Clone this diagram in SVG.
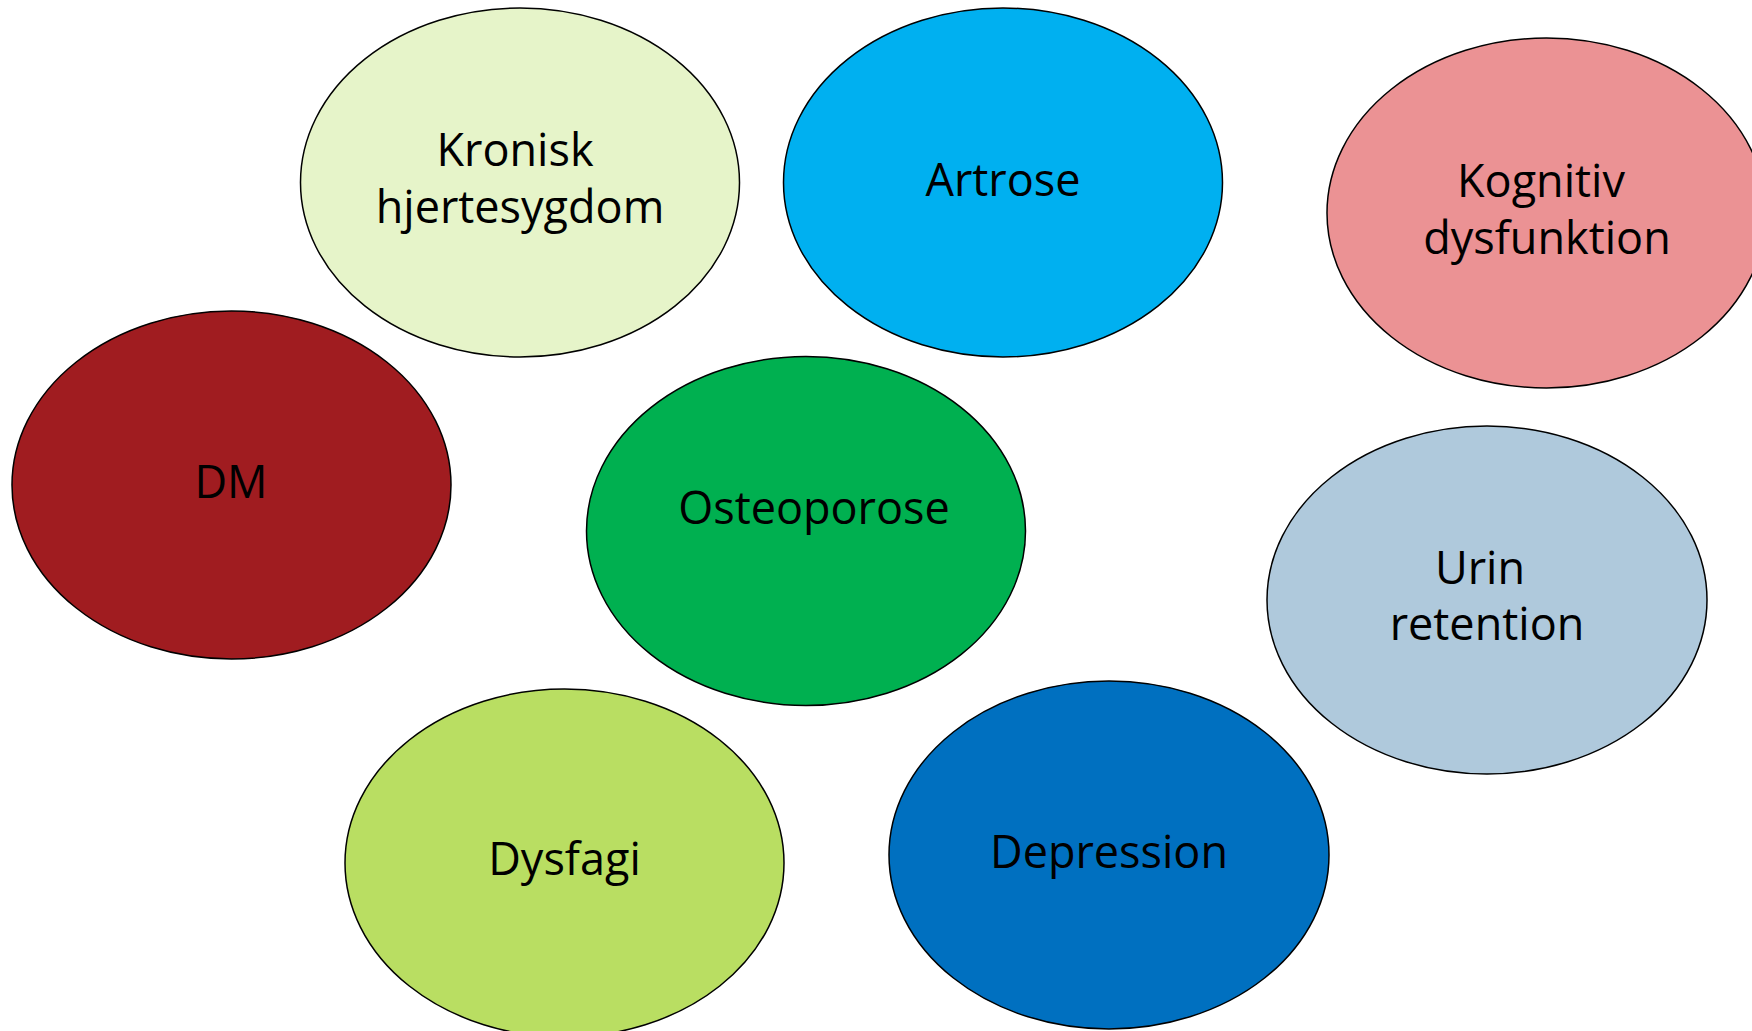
<svg xmlns="http://www.w3.org/2000/svg" width="1752" height="1031" viewBox="0 0 1752 1031">
<style>
.n{stroke:#000;stroke-width:1.5}
.t{font-family:"Open Sans","Noto Sans","Liberation Sans",sans-serif;font-size:45px;fill:#000;text-anchor:middle}
</style>
<rect width="1752" height="1031" fill="#fff"/>
<g id="connectors"></g>
<g id="kronisk"><ellipse class="n" cx="520" cy="182.5" rx="219.5" ry="174.5" fill="#E6F4C9"/><text class="t" x="515" y="166">Kronisk</text><text class="t" x="520" y="223">hjertesygdom</text></g>
<g id="artrose"><ellipse class="n" cx="1003" cy="182.5" rx="219.5" ry="174.5" fill="#00B0F0"/><text class="t" x="1003" y="196">Artrose</text></g>
<g id="kognitiv"><ellipse class="n" cx="1546.5" cy="213" rx="219.5" ry="175" fill="#EB9294"/><text class="t" x="1541" y="197">Kognitiv</text><text class="t" x="1547" y="254">dysfunktion</text></g>
<g id="dm"><ellipse class="n" cx="231.5" cy="485" rx="219.5" ry="174" fill="#A01C20"/><text class="t" x="231" y="498">DM</text></g>
<g id="osteoporose"><ellipse class="n" cx="806" cy="531" rx="219.5" ry="174.5" fill="#00B050"/><text class="t" x="814" y="524">Osteoporose</text></g>
<g id="urin"><ellipse class="n" cx="1487" cy="600" rx="220" ry="174" fill="#AFC9DC"/><text class="t" x="1480" y="584">Urin</text><text class="t" x="1487" y="640">retention</text></g>
<g id="dysfagi"><ellipse class="n" cx="564.5" cy="863" rx="219.5" ry="174" fill="#B9DE62"/><text class="t" x="564.5" y="875">Dysfagi</text></g>
<g id="depression"><ellipse class="n" cx="1109" cy="855" rx="220" ry="174" fill="#0070C0"/><text class="t" x="1109" y="868">Depression</text></g>
</svg>
